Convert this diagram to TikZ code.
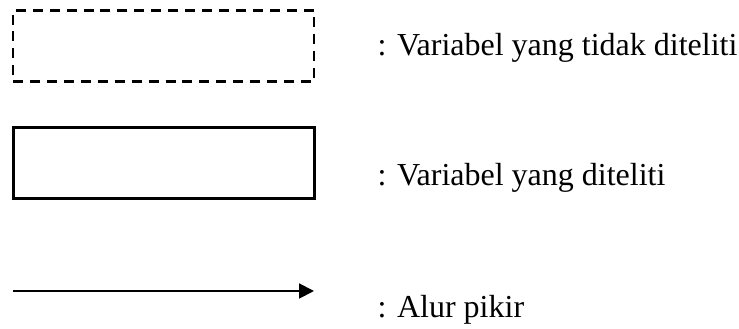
\documentclass[tikz,border=0pt]{standalone}
\usepackage{fontspec}
\setmainfont{Liberation Serif}
\usetikzlibrary{arrows.meta}
\begin{document}
\begin{tikzpicture}[x=0.375pt,y=-0.375pt,inner sep=0pt,
		kotak/.style={rectangle,draw,line width=1.1pt,minimum width=112.8pt,minimum height=26.8pt},
		kotakputus/.style={kotak,line width=1pt,dash pattern=on 3.75pt off 2.6pt},
		ket/.style={anchor=base west,font=\fontsize{12}{14}\selectfont}]
		\useasboundingbox (0,0) rectangle (739,329);
%		\draw [help lines] (0,0) grid (739,329);
		\node [kotakputus] (vtd) [] at (163.5,46) {};
		\node [kotak] (vd) [] at (164,163) {};
		\coordinate (ka) at (13,291);
		\coordinate (kb) at (314,291);
		\draw [line width=0.75pt,-{Triangle[length=5.6pt,width=5.6pt]}] (ka) -- (kb);
		\node [ket] (tvtd) at (377,56) {: Variabel yang tidak diteliti};
		\node [ket] (tvd) at (377,186) {: Variabel yang diteliti};
		\node [ket] (tal) at (377,318) {: Alur pikir};
	\end{tikzpicture}
\end{document}
